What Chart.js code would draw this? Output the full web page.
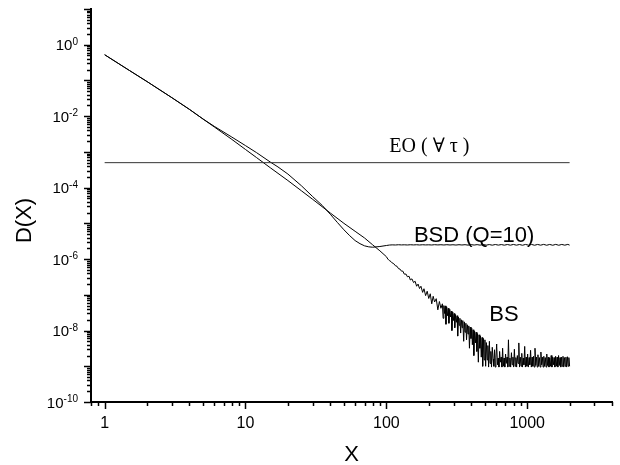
<!DOCTYPE html>
<html><head><meta charset="utf-8">
<script src="https://cdn.jsdelivr.net/npm/chart.js@4.4.0/dist/chart.umd.min.js"></script>
<style>html,body{margin:0;padding:0;background:#fff}#wrap{width:620px;height:465px}</style>
</head><body><div id="wrap"><canvas id="c" width="620" height="465"></canvas></div>
<script>
// ---- data ----
const bsX = [1,1.5,2,3,4,5,6,8,10,12,15,20,25,30,40,50,60,70,80,90,
  100,102.5,105,108,110,113,116,119,122,125,128,131,134,138,141,145,148,152,156,160,
  164,168,172,176,181,185,190,195,200,205,210,215,220,226,232,238,244,
  250,253,256,259,262,265,268,272,275,278,
  282,285,289,292,296,299,303,306,310,314,
  318,321,325,329,333,337,341,345,349,354,
  358,362,367,371,376,380,385,389,394,399,
  404,408,413,418,423,429,434,439,444,450,
  455,461,466,472,478,483,489,495,501,507,
  513,520,526,532,539,545,552,558,565,572,
  579,586,593,600,607,615,622,630,637,645,
  653,661,669,677,685,693,702,710,719,728,
  736,745,754,763,773,782,792,801,811,821,
  831,841,851,861,872,882,893,904,915,926,
  937,948,960,971,983,995,1007,1019,1032,1044,
  1057,1070,1083,1096,1109,1122,1136,1150,1164,1178,
  1192,1206,1221,1236,1251,1266,1281,1297,1312,1328,
  1344,1361,1377,1394,1411,1428,1445,1463,1480,1498,
  1516,1535,1553,1572,1591,1610,1630,1650,1670,1690,
  1710,1731,1752,1773,1795,1817,1839,1861,1883,1906,
  1929,1953,1976,2000];
const bsY = [0.525,0.19,0.093,0.033,0.0155,0.0083,0.005,0.00224,0.00117,6.9e-4,3.6e-4,1.58e-4,8.1e-5,4.7e-5,1.95e-5,1.0e-5,6.0e-6,3.9e-6,2.5e-6,1.7e-6,
  1.17e-6,1.0e-6,9.1e-7,8.5e-7,7.8e-7,7.4e-7,6.5e-7,6.3e-7,5.4e-7,5.25e-7,4.6e-7,4.6e-7,3.8e-7,3.8e-7,3.2e-7,3.3e-7,2.6e-7,2.8e-7,2.2e-7,2.4e-7,
  1.74e-7,2.0e-7,1.5e-7,1.74e-7,1.17e-7,1.48e-7,9.5e-8,1.26e-7,7.9e-8,1.07e-7,5.6e-8,9.1e-8,6.3e-8,7.8e-8,3.8e-8,6.5e-8,4.2e-8,
  5.6e-8,2.2e-8,5.0e-8,3.0e-8,4.9e-8,1.5e-8,4.6e-8,2.6e-8,4.2e-8,1.6e-8,
  3.9e-8,2.4e-8,3.5e-8,1.0e-8,3.3e-8,1.9e-8,3.0e-8,1.2e-8,2.8e-8,1.7e-8,
  2.6e-8,7.0e-9,2.4e-8,1.4e-8,2.2e-8,8.5e-9,2.0e-8,1.2e-8,1.9e-8,5.0e-9,
  1.75e-8,9.0e-9,1.6e-8,5.5e-9,1.45e-8,8.0e-9,1.35e-8,3.2e-9,1.25e-8,6.0e-9,
  1.15e-8,4.0e-9,1.05e-8,2.0e-9,9.6e-9,4.5e-9,9.0e-9,2.6e-9,8.2e-9,1.3e-9,
  7.6e-9,3.2e-9,7.0e-9,1.8e-9,6.4e-9,1.0e-9,6.0e-9,1.5e-9,5.5e-9,1.0e-9,
  4.6e-9,1.5e-9,3.8e-9,9.5e-10,5.0e-9,1.2e-9,2.6e-9,9.5e-10,3.4e-9,1.6e-9,
  1.0e-9,2.9e-9,9.5e-10,1.8e-9,4.2e-9,1.1e-9,1.7e-9,9.5e-10,2.6e-9,1.3e-9,
  1.8e-9,9.5e-10,3.2e-9,1.0e-9,1.7e-9,9.5e-10,2.2e-9,1.2e-9,1.8e-9,9.5e-10,
  5.5e-9,1.0e-9,1.7e-9,9.5e-10,2.4e-9,1.1e-9,1.8e-9,9.5e-10,3.0e-9,1.0e-9,
  1.75e-9,9.5e-10,2.0e-9,1.2e-9,4.5e-9,9.5e-10,1.8e-9,1.0e-9,2.3e-9,9.5e-10,
  1.7e-9,1.1e-9,3.6e-9,9.5e-10,1.8e-9,1.0e-9,2.2e-9,9.5e-10,1.75e-9,1.1e-9,
  2.8e-9,9.5e-10,1.8e-9,1.0e-9,1.9e-9,9.5e-10,3.2e-9,1.05e-9,1.8e-9,9.5e-10,
  2.1e-9,1.0e-9,1.75e-9,9.5e-10,2.5e-9,1.1e-9,1.8e-9,9.5e-10,1.9e-9,1.0e-9,
  1.75e-9,9.5e-10,2.2e-9,1.05e-9,1.8e-9,9.5e-10,1.7e-9,1.0e-9,2.0e-9,9.5e-10,
  1.8e-9,1.1e-9,1.75e-9,9.5e-10,1.9e-9,1.0e-9,1.8e-9,9.5e-10,2.0e-9,1.05e-9,
  1.75e-9,9.5e-10,1.8e-9,1.0e-9,1.9e-9,9.5e-10,1.75e-9,1.0e-9,1.8e-9,9.5e-10,
  1.85e-9,1.0e-9,1.75e-9,1.0e-9];

const bsdX = [1,1.5,2,3,4,5,6,8,10,12,15,17,20,25,30,35,40,45,50,55,60,65,70,75,80,90,
  100,105,110,116,122,128,134,141,148,156,164,172,181,190,200,210,220,232,244,256,269,283,297,312,
  328,344,362,380,400,420,441,463,487,512,538,565,594,624,655,688,723,760,798,839,881,926,973,1022,
  1074,1128,1185,1246,1309,1375,1444,1518,1594,1675,1760,1849,1943,2000];
const bsdY = [0.525,0.19,0.093,0.033,0.0155,0.0083,0.0052,0.0026,0.0015,9.5e-4,5.2e-4,3.8e-4,2.4e-4,1.12e-4,5.6e-5,3.2e-5,1.8e-5,1.05e-5,6.6e-6,4.5e-6,3.3e-6,2.7e-6,2.35e-6,2.2e-6,2.15e-6,2.25e-6,
  2.40e-6,2.47e-6,2.50e-6,2.48e-6,2.52e-6,2.49e-6,2.51e-6,2.48e-6,2.52e-6,2.49e-6,2.52e-6,2.48e-6,2.52e-6,2.49e-6,2.51e-6,2.48e-6,2.53e-6,2.49e-6,2.52e-6,2.48e-6,2.53e-6,2.48e-6,2.52e-6,2.47e-6,
  2.53e-6,2.48e-6,2.53e-6,2.46e-6,2.54e-6,2.47e-6,2.54e-6,2.46e-6,2.55e-6,2.46e-6,2.55e-6,2.45e-6,2.56e-6,2.46e-6,2.55e-6,2.45e-6,2.56e-6,2.45e-6,2.57e-6,2.45e-6,2.56e-6,2.44e-6,2.57e-6,2.45e-6,
  2.57e-6,2.44e-6,2.57e-6,2.45e-6,2.58e-6,2.44e-6,2.57e-6,2.44e-6,2.58e-6,2.44e-6,2.57e-6,2.45e-6,2.58e-6,2.46e-6];

const eoX = [1, 2000];
const eoY = [5e-4, 5e-4];

const xTickValues = [1, 10, 100, 1000];
const xTickLabels = ['1', '10', '100', '1000'];
const yLabelExponents = [0, -2, -4, -6, -8, -10];

const seriesLabels = ['EO ( \u2200 \u03c4 )', 'BSD (Q=10)', 'BS'];
// label anchors in data units
const eoLabelAt = {x: 105, y: 1.0e-3};
const bsdLabelAt = {x: 157, y: 3.1e-6};
const bsLabelAt = {x: 538, y: 1.86e-8};

const pts = (xs, ys) => xs.map((x, i) => ({x: x, y: ys[i]}));

const SANS = '"Liberation Sans", Arial, sans-serif';
const SERIF = '"Liberation Serif", "DejaVu Serif", serif';

const decor = {
  id: 'decor',
  afterDraw(chart) {
    const ctx = chart.ctx, xs = chart.scales.x, ys = chart.scales.y, ca = chart.chartArea;
    ctx.save();
    ctx.strokeStyle = '#000';
    ctx.fillStyle = '#000';
    ctx.lineWidth = 1.5;
    // x ticks
    for (let e = -1; e <= 3; e++) {
      for (let m = 1; m <= 9; m++) {
        const v = m * Math.pow(10, e);
        if (v < xs.min - 1e-9 || v > xs.max + 1e-9) continue;
        const px = Math.round(xs.getPixelForValue(v)) + 0.5;
        const len = m === 1 ? 7 : 4;
        ctx.beginPath(); ctx.moveTo(px, ca.bottom); ctx.lineTo(px, ca.bottom + len); ctx.stroke();
      }
    }
    // y ticks
    for (let e = -10; e <= 1; e++) {
      for (let m = 1; m <= 9; m++) {
        const v = m * Math.pow(10, e);
        if (v < ys.min * 0.999 || v > ys.max * 1.001) continue;
        const py = Math.round(ys.getPixelForValue(v)) + 0.5;
        const len = m === 1 ? 7 : 4;
        ctx.beginPath(); ctx.moveTo(ca.left, py); ctx.lineTo(ca.left - len, py); ctx.stroke();
      }
    }
    // x tick labels
    ctx.font = '16px ' + SANS;
    ctx.textAlign = 'center'; ctx.textBaseline = 'middle';
    xTickValues.forEach((v, i) => {
      ctx.fillText(xTickLabels[i], xs.getPixelForValue(v), ca.bottom + 21.5);
    });
    // y tick labels 10^n
    yLabelExponents.forEach(n => {
      const py = ys.getPixelForValue(Math.pow(10, n));
      const right = ca.left - 13;
      ctx.font = '10px ' + SANS;
      const sup = String(n);
      const sw = ctx.measureText(sup).width;
      ctx.textAlign = 'left'; ctx.textBaseline = 'alphabetic';
      ctx.fillText(sup, right - sw, py);
      ctx.font = '15px ' + SANS;
      ctx.textAlign = 'right'; ctx.textBaseline = 'middle';
      ctx.fillText('10', right - sw, py + 1.5);
    });
    // axis titles
    ctx.font = '22px ' + SANS;
    ctx.textAlign = 'center'; ctx.textBaseline = 'middle';
    ctx.fillText('X', (ca.left + ca.right) / 2, 455);
    ctx.save();
    ctx.translate(25, (ca.top + ca.bottom) / 2 + 15);
    ctx.rotate(-Math.PI / 2);
    ctx.fillText('D(X)', 0, 0);
    ctx.restore();
    // series labels
    ctx.textAlign = 'left'; ctx.textBaseline = 'alphabetic';
    ctx.font = '20px ' + SERIF;
    ctx.fillText(seriesLabels[0], xs.getPixelForValue(eoLabelAt.x), ys.getPixelForValue(eoLabelAt.y));
    ctx.font = '22px ' + SANS;
    ctx.fillText(seriesLabels[1], xs.getPixelForValue(bsdLabelAt.x), ys.getPixelForValue(bsdLabelAt.y));
    ctx.fillText(seriesLabels[2], xs.getPixelForValue(bsLabelAt.x), ys.getPixelForValue(bsLabelAt.y));
    ctx.restore();
  }
};

const lineStyle = {showLine: true, pointRadius: 0, borderColor: '#000', borderWidth: 1, tension: 0, fill: false};

new Chart(document.getElementById('c'), {
  type: 'scatter',
  data: {
    datasets: [
      Object.assign({label: seriesLabels[0], data: pts(eoX, eoY)}, lineStyle, {borderColor: '#333'}),
      Object.assign({label: seriesLabels[1], data: pts(bsdX, bsdY)}, lineStyle),
      Object.assign({label: seriesLabels[2], data: pts(bsX, bsY)}, lineStyle)
    ]
  },
  options: {
    responsive: false,
    devicePixelRatio: 1,
    animation: false,
    layout: {padding: {left: 91, right: 8, top: 9, bottom: 63}},
    plugins: {legend: {display: false}, tooltip: {enabled: false}},
    scales: {
      x: {
        type: 'logarithmic', min: 0.8, max: 4000,
        ticks: {display: false},
        grid: {display: false},
        border: {display: true, color: '#000', width: 2},
        afterFit: s => { s.height = 0; }
      },
      y: {
        type: 'logarithmic', min: 1e-10, max: 10,
        ticks: {display: false},
        grid: {display: false},
        border: {display: true, color: '#000', width: 2},
        afterFit: s => { s.width = 0; }
      }
    }
  },
  plugins: [decor]
});
</script>
</body></html>
